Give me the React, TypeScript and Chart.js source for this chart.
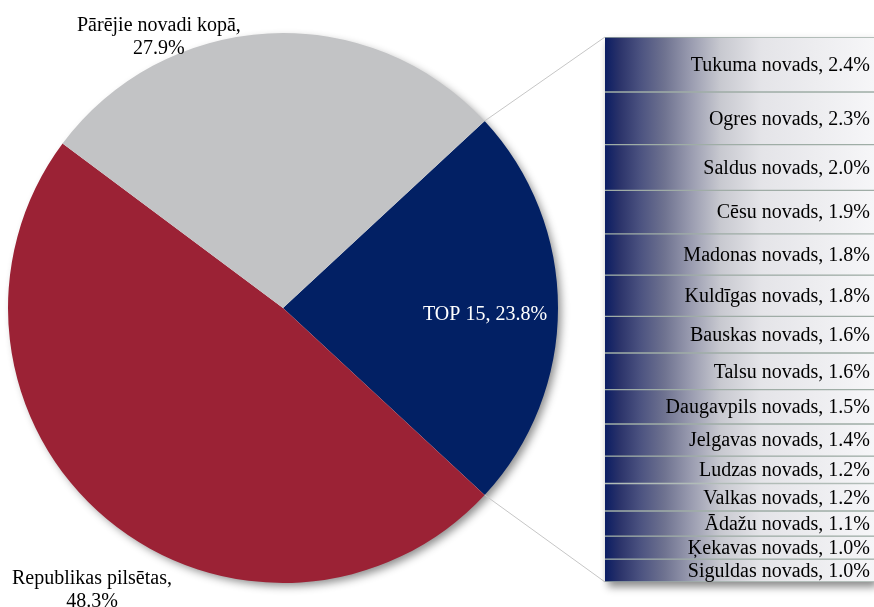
import React, { useEffect, useRef } from 'react';
import { Chart, registerables } from 'chart.js';
Chart.register(...registerables);

const pieLabels = ['TOP 15', 'Republikas pilsētas', 'Pārējie novadi kopā'];
const pieValues = [23.8, 48.3, 27.9];
const pieColors = ['#022064', '#9b2235', '#c2c3c5'];
const pieLabelColors = ['#ffffff', '#000000', '#000000'];
// label anchor (angle in degrees on canvas, radius factor) per slice
const pieLabelAngles = [2, 124.1, 245.4];
const pieLabelRadius = [0.735, 1.239, 1.084];
const pieLabelLines = [
  ['TOP 15, 23.8%'],
  ['Republikas pilsētas,', '48.3%'],
  ['Pārējie novadi kopā,', '27.9%'],
];

const topNames = [
  'Tukuma novads', 'Ogres novads', 'Saldus novads', 'Cēsu novads', 'Madonas novads',
  'Kuldīgas novads', 'Bauskas novads', 'Talsu novads', 'Daugavpils novads', 'Jelgavas novads',
  'Ludzas novads', 'Valkas novads', 'Ādažu novads', 'Ķekavas novads', 'Siguldas novads',
];
const topValues = [2.4, 2.3, 2.0, 1.9, 1.8, 1.8, 1.6, 1.6, 1.5, 1.4, 1.2, 1.2, 1.1, 1.0, 1.0];

const FONT = '20px "Liberation Serif", "Times New Roman", serif';
const BAR_LEFT = 600;

export default function App() {
  const pieRef = useRef<HTMLCanvasElement>(null);
  const barRef = useRef<HTMLCanvasElement>(null);

  useEffect(() => {
    const topTotal = topValues.reduce((a, b) => a + b, 0);

    const barShadow = {
      id: 'barShadow',
      beforeDatasetsDraw(chart: any) {
        const first = chart.getDatasetMeta(0).data[0];
        const last = chart.getDatasetMeta(topValues.length - 1).data[0];
        if (!first || !last) return;
        const left = first.x - first.width / 2;
        const top = Math.min(first.y, first.base);
        const bottom = Math.max(last.y, last.base);
        const ctx = chart.ctx;
        ctx.save();
        ctx.shadowColor = 'rgba(0,0,0,0.45)';
        ctx.shadowBlur = 8;
        ctx.shadowOffsetX = 3;
        ctx.shadowOffsetY = 5;
        ctx.fillStyle = '#ffffff';
        ctx.fillRect(left, top, first.width, bottom - top);
        ctx.restore();
      },
      afterDatasetsDraw(chart: any) {
        const ctx = chart.ctx;
        ctx.save();
        ctx.font = FONT;
        ctx.fillStyle = '#000';
        ctx.textAlign = 'right';
        ctx.textBaseline = 'middle';
        topValues.forEach((v, i) => {
          const el = chart.getDatasetMeta(i).data[0];
          if (!el) return;
          const right = el.x + el.width / 2 - 4;
          const mid = (el.y + el.base) / 2 + 1;
          ctx.fillText(`${topNames[i]}, ${v.toFixed(1)}%`, right, mid);
        });
        ctx.restore();
      },
    };

    const barChart = new Chart(barRef.current!, {
      type: 'bar',
      data: {
        labels: ['TOP 15'],
        datasets: topValues.map((v, i) => ({
          label: topNames[i],
          data: [v],
          backgroundColor: (c: any) => {
            const area = c.chart.chartArea;
            if (!area) return '#022064';
            const g = c.chart.ctx.createLinearGradient(area.left, 0, area.right, 0);
            g.addColorStop(0, '#0b1d63');
            g.addColorStop(0.055, '#2b336a');
            g.addColorStop(0.13, '#4b5280');
            g.addColorStop(0.22, '#6e7290');
            g.addColorStop(0.32, '#9a9cb0');
            g.addColorStop(0.43, '#c8c9d0');
            g.addColorStop(0.58, '#e4e4e8');
            g.addColorStop(1, '#f6f6f8');
            return g;
          },
          borderColor: '#9fada6',
          borderWidth: { top: 1, bottom: 1, left: 0, right: 0 },
          borderSkipped: false,
          barPercentage: 1,
          categoryPercentage: 1,
        })),
      },
      options: {
        responsive: false,
        animation: false,
        layout: { padding: { left: 5, right: 0, top: 37, bottom: 25 } },
        scales: {
          x: { display: false, stacked: true },
          y: { display: false, stacked: true, reverse: true, min: 0, max: topTotal },
        },
        plugins: { legend: { display: false }, tooltip: { enabled: false } },
      },
      plugins: [barShadow],
    } as any);

    const total = pieValues.reduce((a, b) => a + b, 0);
    const rotation = 90 - (pieValues[0] / total) * 180;

    const piePlugin = {
      id: 'pieExtras',
      beforeDatasetsDraw(chart: any) {
        const arc = chart.getDatasetMeta(0).data[0];
        if (!arc) return;
        const ctx = chart.ctx;
        ctx.save();
        ctx.shadowColor = 'rgba(0,0,0,0.45)';
        ctx.shadowBlur = 8;
        ctx.shadowOffsetX = 4;
        ctx.shadowOffsetY = 4;
        ctx.fillStyle = '#ffffff';
        ctx.beginPath();
        ctx.arc(arc.x, arc.y, arc.outerRadius - 1, 0, Math.PI * 2);
        ctx.fill();
        ctx.restore();
      },
      afterDatasetsDraw(chart: any) {
        const meta = chart.getDatasetMeta(0);
        const arc0 = meta.data[0];
        if (!arc0) return;
        const ctx = chart.ctx;
        const cx = arc0.x, cy = arc0.y, r = arc0.outerRadius;

        // connector lines to the bar
        const first = barChart.getDatasetMeta(0).data[0] as any;
        const last = barChart.getDatasetMeta(topValues.length - 1).data[0] as any;
        if (first && last) {
          const bx = BAR_LEFT + first.x - first.width / 2;
          const btop = Math.min(first.y, first.base);
          const bbot = Math.max(last.y, last.base);
          ctx.save();
          ctx.strokeStyle = '#c6c6c6';
          ctx.lineWidth = 1;
          ctx.beginPath();
          ctx.moveTo(cx + r * Math.cos(arc0.startAngle), cy + r * Math.sin(arc0.startAngle));
          ctx.lineTo(bx, btop);
          ctx.moveTo(cx + r * Math.cos(arc0.endAngle), cy + r * Math.sin(arc0.endAngle));
          ctx.lineTo(bx, bbot);
          ctx.stroke();
          ctx.restore();
        }

        // labels
        ctx.save();
        ctx.font = FONT;
        ctx.textAlign = 'center';
        ctx.textBaseline = 'middle';
        const lh = 23;
        pieLabelLines.forEach((lines, i) => {
          const a = (pieLabelAngles[i] * Math.PI) / 180;
          const lx = cx + r * pieLabelRadius[i] * Math.cos(a);
          const ly = cy + r * pieLabelRadius[i] * Math.sin(a);
          ctx.fillStyle = pieLabelColors[i];
          lines.forEach((t, j) => {
            ctx.fillText(t, lx, ly + (j - (lines.length - 1) / 2) * lh);
          });
        });
        ctx.restore();
      },
    };

    const pieChart = new Chart(pieRef.current!, {
      type: 'pie',
      data: {
        labels: pieLabels,
        datasets: [{ data: pieValues, backgroundColor: pieColors, borderWidth: 0 }],
      },
      options: {
        responsive: false,
        animation: false,
        rotation,
        layout: { padding: { left: 8, right: 316, top: 33, bottom: 24 } },
        plugins: { legend: { display: false }, tooltip: { enabled: false } },
      },
      plugins: [piePlugin],
    } as any);

    return () => {
      pieChart.destroy();
      barChart.destroy();
    };
  }, []);

  return (
    <div style={{ position: 'absolute', left: 0, top: 0, width: 874, height: 607, overflow: 'hidden', background: '#fff' }}>
      <canvas ref={pieRef} width={874} height={607} style={{ position: 'absolute', left: 0, top: 0 }} />
      <canvas ref={barRef} width={274} height={607} style={{ position: 'absolute', left: BAR_LEFT, top: 0 }} />
    </div>
  );
}
